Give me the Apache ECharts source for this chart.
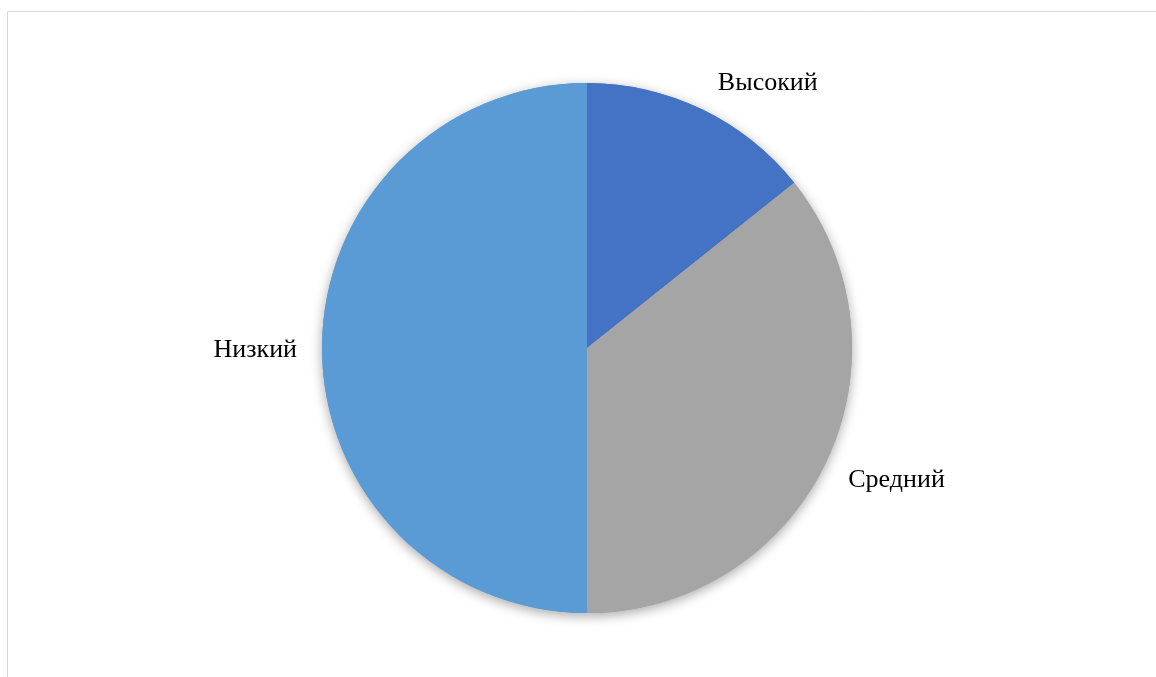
<!DOCTYPE html>
<html><head><meta charset="utf-8">
<script src="https://cdn.jsdelivr.net/npm/echarts@6/dist/echarts.min.js"></script>
<style>html,body{margin:0;padding:0;background:#fff}#c{width:1156px;height:677px}</style>
</head><body><div id="c"></div>
<script>
const categories = ['Высокий', 'Средний', 'Низкий'];
const values = [2, 5, 7];
const colors = ['#4472C4', '#A5A5A5', '#5B9BD5'];

const labelShift = [[2, -4], [-3, 6], [3, 2]];
const chart = echarts.init(document.getElementById('c'), null, {renderer: 'canvas'});
const base = {
  type: 'pie',
  center: [587, 348],
  radius: 265,
  startAngle: 90,
  clockwise: true,
  avoidLabelOverlap: false,
  emphasis: {disabled: true}
};
chart.setOption({
  backgroundColor: '#fff',
  animation: false,
  graphic: [{
    type: 'rect', shape: {x: 7.5, y: 11.5, width: 1160, height: 700},
    style: {fill: 'none', stroke: '#d9d9d9', lineWidth: 1}, silent: true, z: -1
  }],
  series: [
    Object.assign({}, base, {
      silent: true, z: 1,
      label: {show: false}, labelLine: {show: false},
      itemStyle: {shadowBlur: 12, shadowColor: 'rgba(0,0,0,0.35)', shadowOffsetY: 3, borderWidth: 0},
      data: categories.map((n, i) => ({name: n, value: values[i], itemStyle: {color: colors[i]}}))
    }),
    Object.assign({}, base, {
      z: 2,
      label: {
        show: true, position: 'outside',
        fontFamily: '"Liberation Serif", "Times New Roman", serif',
        fontSize: 26, color: '#000', distanceToLabelLine: 3
      },
      labelLine: {show: false, length: 25, length2: 0},
      labelLayout: p => ({dx: labelShift[p.dataIndex][0], dy: labelShift[p.dataIndex][1]}),
      itemStyle: {borderWidth: 0},
      data: categories.map((n, i) => ({name: n, value: values[i], itemStyle: {color: colors[i]}}))
    })
  ]
});
</script></body></html>
